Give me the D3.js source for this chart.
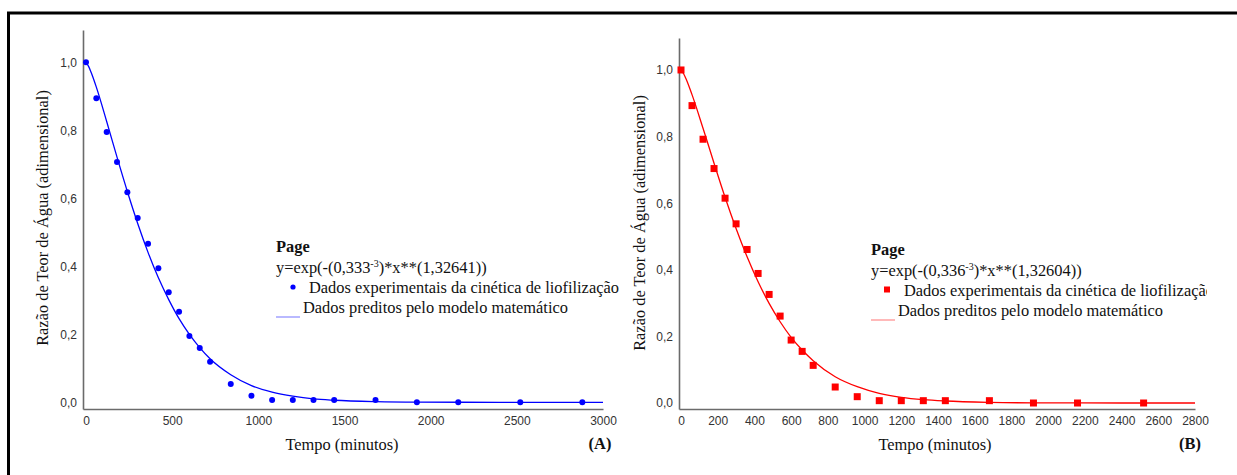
<!DOCTYPE html>
<html>
<head>
<meta charset="utf-8">
<script src="https://cdn.jsdelivr.net/npm/d3@7"></script>
<style>
  body { margin: 0; background: #fff; }
  svg { display: block; }
  .tick text { font-family: "Liberation Sans", Arial, sans-serif; font-size: 12px; fill: #333; }
  .serif { font-family: "Liberation Serif", "Times New Roman", serif; font-size: 16.4px; fill: #111; }
</style>
</head>
<body>
<svg id="chart" width="1237" height="475"></svg>
<script>
// experimental points (minutes, water ratio)
const tempoA = [0, 60, 120, 180, 240, 300, 360, 420, 480, 540, 600, 660, 720, 840, 960, 1080, 1200, 1320, 1440, 1680, 1920, 2160, 2520, 2880];
const razaoA = [1.0, 0.894, 0.795, 0.707, 0.618, 0.542, 0.466, 0.394, 0.324, 0.266, 0.195, 0.160, 0.119, 0.054, 0.019, 0.007, 0.007, 0.007, 0.007, 0.007, 0.0, 0.0, 0.0, 0.0];

const tempoB = [0, 60, 120, 180, 240, 300, 360, 420, 480, 540, 600, 660, 720, 840, 960, 1080, 1200, 1320, 1440, 1680, 1920, 2160, 2520];
const razaoB = [1.0, 0.893, 0.792, 0.704, 0.615, 0.538, 0.461, 0.389, 0.326, 0.261, 0.189, 0.155, 0.113, 0.048, 0.019, 0.007, 0.007, 0.007, 0.007, 0.007, 0.0, 0.0, 0.0];

// model (Page) predicted values
const tempoModeloA = [0, 15, 30, 60, 120, 180, 240, 300, 360, 420, 480, 540, 600, 660, 720, 840, 960, 1080, 1200, 1320, 1440, 1680, 1920, 2400, 3000];
const preditoA = [1.0, 0.988, 0.970, 0.927, 0.826, 0.721, 0.620, 0.526, 0.441, 0.366, 0.302, 0.246, 0.200, 0.161, 0.128, 0.081, 0.049, 0.030, 0.018, 0.010, 0.006, 0.002, 0.0005, 0.0, 0.0];

const tempoModeloB = [0, 15, 30, 60, 120, 180, 240, 300, 360, 420, 480, 540, 600, 660, 720, 840, 960, 1080, 1200, 1320, 1440, 1680, 1920, 2400, 2800];
const preditoB = [1.0, 0.988, 0.970, 0.926, 0.825, 0.720, 0.618, 0.524, 0.439, 0.364, 0.299, 0.244, 0.197, 0.159, 0.127, 0.079, 0.049, 0.029, 0.017, 0.010, 0.006, 0.002, 0.0005, 0.0, 0.0];

const yTicks = [0, 0.2, 0.4, 0.6, 0.8, 1.0];
const xTicksA = [0, 500, 1000, 1500, 2000, 2500, 3000];
const xTicksB = [0, 200, 400, 600, 800, 1000, 1200, 1400, 1600, 1800, 2000, 2200, 2400, 2600, 2800];

const ptBR = d3.formatLocale({ decimal: ",", thousands: ".", grouping: [3], currency: ["R$", ""] });
const fmtY = ptBR.format(".1f");

const svg = d3.select("#chart");

// outer frame
svg.append("rect")
    .attr("x", 8.5)
    .attr("y", 13)
    .attr("width", 1400)
    .attr("height", 600)
    .attr("fill", "none")
    .attr("stroke", "#000")
    .attr("stroke-width", 3);

function translate(x, y) {
  return "translate(" + x + "," + y + ")";
}

function drawPanel(p) {

  const x = d3.scaleLinear().domain(p.xDomain).range([p.left, p.right]);
  const y = d3.scaleLinear().domain(p.yDomain).range([p.bottom, p.top]);

  const g = svg.append("g");

  // axes
  const xAxis = g.append("g")
      .attr("transform", translate(0, p.bottom))
      .call(d3.axisBottom(x).tickValues(p.xTicks).tickSize(0).tickPadding(7).tickFormat(d => d));

  const yAxis = g.append("g")
      .attr("transform", translate(p.left, 0))
      .call(d3.axisLeft(y).tickValues(yTicks).tickSize(0).tickPadding(6).tickFormat(fmtY));

  [xAxis, yAxis].forEach(a => a.select(".domain")
      .attr("stroke", "#6b6b6b")
      .attr("stroke-width", 1.6));

  // model curve
  const line = d3.line()
      .x((d, i) => x(p.modelX[i]))
      .y(d => y(d))
      .curve(d3.curveMonotoneX);

  g.append("path")
      .datum(p.modelY)
      .attr("fill", "none")
      .attr("stroke", p.color)
      .attr("stroke-width", 1.3)
      .attr("d", line);

  // experimental points
  const pts = g.append("g");
  if (p.symbol === "circle") {
    pts.selectAll("circle")
      .data(p.dataY)
      .enter()
      .append("circle")
        .attr("cx", (d, i) => x(p.dataX[i]))
        .attr("cy", d => y(d))
        .attr("r", 3)
        .attr("fill", p.color);
  } else {
    pts.selectAll("rect")
      .data(p.dataY)
      .enter()
      .append("rect")
        .attr("x", (d, i) => x(p.dataX[i]) - 3.5)
        .attr("y", d => y(d) - 3.5)
        .attr("width", 7)
        .attr("height", 7)
        .attr("fill", p.color);
  }

  // axis titles
  g.append("text")
      .attr("class", "serif")
      .attr("transform", translate(p.yTitleX, p.yTitleY) + " rotate(-90)")
      .attr("text-anchor", "middle")
      .text("Razão de Teor de Água (adimensional)");

  g.append("text")
      .attr("class", "serif")
      .attr("x", p.xTitleX)
      .attr("y", 450)
      .attr("text-anchor", "middle")
      .text("Tempo (minutos)");

  g.append("text")
      .attr("class", "serif")
      .attr("x", p.tagX)
      .attr("y", 449)
      .attr("text-anchor", "middle")
      .attr("font-weight", "bold")
      .text(p.tag);

  // legend
  const lg = g.append("g")
      .attr("transform", translate(p.legX, p.legY));

  if (p.clip) {
    // clip coordinates are in the legend group's own space
    const id = "clip-" + p.tag.replace(/\W/g, "");
    lg.append("clipPath")
        .attr("id", id)
      .append("rect")
        .attr("x", -10)
        .attr("y", -30)
        .attr("width", p.clip - p.legX + 10)
        .attr("height", 110);
    lg.attr("clip-path", "url(#" + id + ")");
  }

  lg.append("text")
      .attr("class", "serif")
      .attr("font-weight", "bold")
      .attr("y", 0)
      .text("Page");

  const eq = lg.append("text")
      .attr("class", "serif")
      .attr("y", 21);
  eq.append("tspan").text("y=exp(-(" + p.k);
  eq.append("tspan").attr("dy", -6).attr("font-size", 10).text("-3");
  eq.append("tspan").attr("dy", 6).text(")*x**(" + p.n + "))");

  if (p.symbol === "circle") {
    lg.append("circle").attr("cx", 17).attr("cy", 35).attr("r", 2.6).attr("fill", p.color);
  } else {
    lg.append("rect").attr("x", 13).attr("y", 31.5).attr("width", 6).attr("height", 6).attr("fill", p.color);
  }
  lg.append("text")
      .attr("class", "serif")
      .attr("x", 33)
      .attr("y", 41)
      .text("Dados experimentais da cinética de liofilização");

  lg.append("line")
      .attr("x1", 0).attr("x2", 24)
      .attr("y1", 65).attr("y2", 65)
      .attr("stroke", p.color)
      .attr("stroke-opacity", 0.55)
      .attr("stroke-width", 1);
  lg.append("text")
      .attr("class", "serif")
      .attr("x", 27)
      .attr("y", 61)
      .text("Dados preditos pelo modelo matemático");
}

drawPanel({
  tag: "(A)",
  color: "#0000ff",
  symbol: "circle",
  dataX: tempoA, dataY: razaoA,
  modelX: tempoModeloA, modelY: preditoA,
  xTicks: xTicksA,
  xDomain: [-17.4, 3000], yDomain: [-0.0197, 1.095],
  left: 83, right: 603, top: 30, bottom: 409,
  yTitleX: 48, yTitleY: 218,
  xTitleX: 342, tagX: 600,
  legX: 276, legY: 252,
  k: "0,333", n: "1,32641"
});

drawPanel({
  tag: "(B)",
  color: "#ff0000",
  symbol: "square",
  dataX: tempoB, dataY: razaoB,
  modelX: tempoModeloB, modelY: preditoB,
  xTicks: xTicksB,
  xDomain: [-10.9, 2800], yDomain: [-0.018, 1.096],
  left: 679, right: 1195, top: 38, bottom: 409,
  yTitleX: 645, yTitleY: 223,
  xTitleX: 935, tagX: 1190,
  legX: 871, legY: 255,
  k: "0,336", n: "1,32604",
  clip: 1207
});
</script>
</body>
</html>
